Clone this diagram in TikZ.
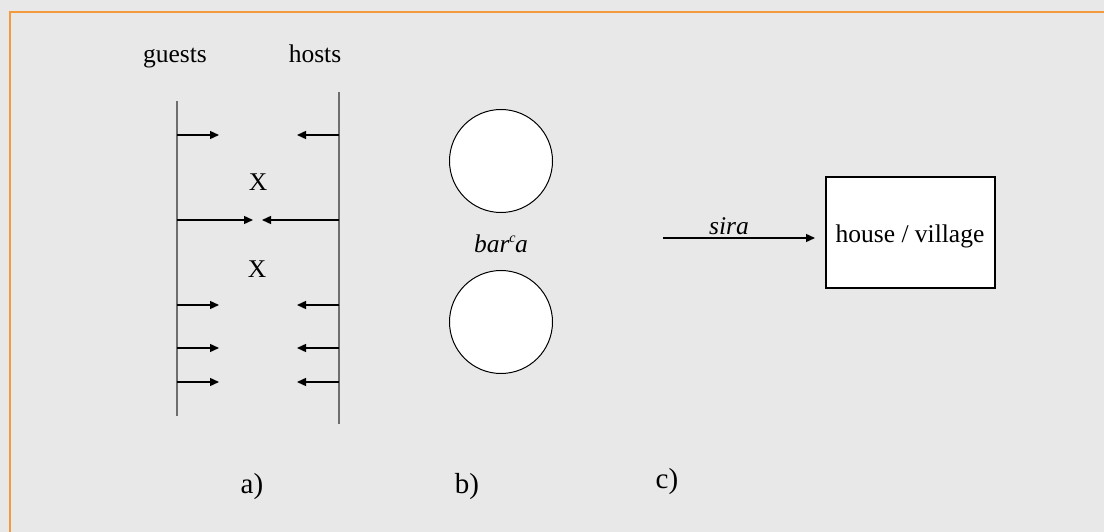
\documentclass[tikz,border=0pt]{standalone}
\usepackage{fontspec}
\setmainfont{Liberation Serif}
\usetikzlibrary{arrows.meta}
\definecolor{bgcol}{HTML}{E8E8E8}
\definecolor{frame}{HTML}{F39A3C}
\definecolor{rail}{HTML}{6E6E6E}
\begin{document}
\begin{tikzpicture}[x=1pt,y=-1pt,
  txt/.style={inner sep=0pt,anchor=base,font=\fontsize{25.5}{30}\selectfont},
  lbl/.style={inner sep=0pt,anchor=base,font=\fontsize{29}{33}\selectfont},
  railline/.style={draw=rail,line width=2pt},
  harrow/.style={draw=black,line width=1.4pt,-{Triangle[length=9pt,width=8pt]}},
  disc/.style={circle,draw=black,line width=1pt,fill=white,minimum size=103pt,inner sep=0pt},
  placebox/.style={draw=black,line width=1.4pt,fill=white,minimum width=169pt,minimum height=111pt,inner sep=0pt}]
\useasboundingbox (0,0) rectangle (1104,532);
\clip (0,0) rectangle (1104,532);
\fill[bgcol] (0,0) rectangle (1104,532);
\draw[frame,line width=2.4pt] (10,12) rectangle (1120,550);

% a)
\node[txt] (guests) at (175,63) {guests};
\node[txt] (hosts) at (315,63) {hosts};
\coordinate (gtop) at (177,101);
\coordinate (gbot) at (177,416);
\coordinate (htop) at (339,92);
\coordinate (hbot) at (339,424);
\draw[railline] (gtop) -- (gbot);
\draw[railline] (htop) -- (hbot);
\foreach \i/\y/\gt/\ht in {1/135/219/297, 2/220/253/262, 3/305/219/297, 4/348/219/297, 5/382/219/297}{
  \coordinate (gs\i) at (177,\y);
  \coordinate (ge\i) at (\gt,\y);
  \coordinate (hs\i) at (339,\y);
  \coordinate (he\i) at (\ht,\y);
  \draw[harrow] (gs\i) -- (ge\i);
  \draw[harrow] (hs\i) -- (he\i);
}
\node[txt] (x1) at (258,191) {X};
\node[txt] (x2) at (257,277) {X};
\node[lbl] (la) at (252,493) {a)};

% b)
\node[disc] (c1) at (501,161) {};
\node[disc] (c2) at (501,322) {};
\node[txt] (barca) at (501,252) {\textit{bar\textsuperscript{\fontsize{14}{14}\selectfont c}\kern-1pt a}};
\node[lbl] (lb) at (467,493) {b)};

% c)
\node[placebox] (house) at (910.5,232.5) {};
\node[txt] (housetxt) at (910,242) {house / village};
\coordinate (sstart) at (663,238);
\coordinate (send) at (815,238);
\draw[harrow] (sstart) -- (send);
\node[txt] (sira) at (729,235) {\textit{sira}};
\node[lbl] (lc) at (667,488) {c)};
\end{tikzpicture}
\end{document}
